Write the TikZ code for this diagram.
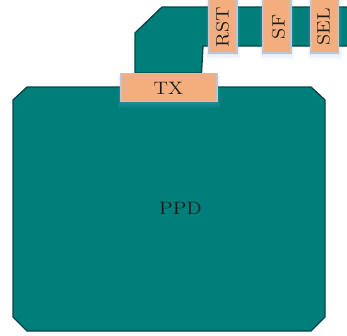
\documentclass[tikz,border=0pt]{standalone}
\definecolor{teal1}{HTML}{007F7A}
\definecolor{edge1}{HTML}{0B4246}
\definecolor{box1}{HTML}{F4AE7E}
\definecolor{boxedge}{HTML}{BFC5CA}
\definecolor{shade1}{HTML}{8FAEDC}
\tikzset{
  region/.style={fill=teal1,draw=edge1,line width=1pt,line join=miter},
  gatebox/.style={fill=box1,draw=boxedge,line width=1pt},
  softshade/.style={fill=shade1,opacity=0.09,draw=none},
  lbl/.style={font=\fontsize{13.5}{16}\selectfont,text=black!90,inner sep=0pt},
  vlbl/.style={lbl,rotate=90}
}
\newcommand{\wide}[1]{\scalebox{1.14}[1]{#1}}
\newcommand{\softbox}[4]{%
  \fill[softshade] (#1-1,-#2-1) rectangle (#3+1,-#4-2);
  \fill[softshade] (#1-2,-#2-1) rectangle (#3+2,-#4-4);
  \fill[softshade] (#1-3,-#2-1) rectangle (#3+3,-#4-6);
}
\newcommand{\gatebox}[4]{\softbox{#1}{#2}{#3}{#4}\draw[gatebox] (#1,-#2) rectangle (#3,-#4);}
\begin{document}
\begin{tikzpicture}[x=0.75pt,y=0.75pt]
\useasboundingbox (0,0) rectangle (347,-336);
\path[region] (27,-87) -- (13,-100) -- (13,-317) -- (27,-331) -- (311,-331) -- (325,-317) -- (325,-100) -- (311,-87) -- cycle;
\path[region] (135,-73) -- (135,-33) -- (162,-7) -- (349,-7) -- (349,-46) -- (203,-46) -- (201.5,-73) -- cycle;
\gatebox{121}{73.5}{217}{101.5}
\gatebox{209}{-2}{237}{53}
\gatebox{263}{-2}{291}{53}
\gatebox{311}{-2}{338.5}{53}
\node[lbl] (ppd) at (180.5,-208.5) {\wide{PPD}};
\node[lbl] (tx) at (168.5,-88) {\wide{TX}};
\node[vlbl] (rst) at (222.5,-27) {\wide{RST}};
\node[vlbl] (sf) at (278.5,-27) {\wide{SF}};
\node[vlbl] (sel) at (323.5,-27) {\wide{SEL}};
\end{tikzpicture}
\end{document}
